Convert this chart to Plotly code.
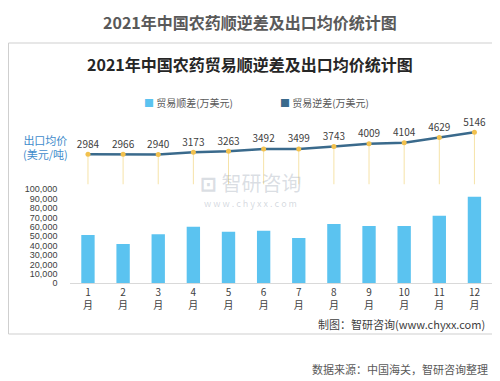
import plotly.graph_objects as go

months = ["1", "2", "3", "4", "5", "6", "7", "8", "9", "10", "11", "12"]
month_labels = [m + "<br>月" for m in months]
trade_surplus = [51400, 41800, 52100, 60200, 54900, 56000, 48200, 63100, 61000, 61000, 71900, 92100]
export_price = [2984, 2966, 2940, 3173, 3263, 3492, 3499, 3743, 4009, 4104, 4629, 5146]
y_ticks = [0, 10000, 20000, 30000, 40000, 50000, 60000, 70000, 80000, 90000, 100000]

# page body has an 8px default margin; map screen pixels to figure fractions
OFF = 8
W, H = 492, 373
FONT = "Noto Sans CJK SC"

def px(x):
    return (x - OFF) / W

def py(y):
    return (H - (y - OFF)) / H

fig = go.Figure()

fig.add_trace(go.Bar(
    x=month_labels, y=trade_surplus, name="贸易顺差(万美元)",
    marker=dict(color="#5bc3f0", line=dict(width=0)),
    width=0.38, xaxis="x", yaxis="y", showlegend=False,
))

fig.add_trace(go.Scatter(
    x=month_labels, y=export_price, name="出口均价",
    mode="lines+markers+text",
    line=dict(color="#3a6a8c", width=2.5),
    marker=dict(color="#f2c14e", size=5),
    text=[str(v) for v in export_price], textposition="top center",
    textfont=dict(size=10, color="#404040", family=FONT),
    error_y=dict(type="data", symmetric=False, array=[0] * len(export_price),
                 arrayminus=export_price, color="#f6e3a8", thickness=1, width=0),
    xaxis="x", yaxis="y2", showlegend=False, cliponaxis=False,
))

fig.update_layout(
    width=W, height=H, autosize=False,
    margin=dict(l=0, r=0, t=0, b=0, pad=0, autoexpand=False),
    paper_bgcolor="white", plot_bgcolor="rgba(0,0,0,0)",
    font=dict(family=FONT, color="#404040"),
    showlegend=False,
    xaxis=dict(
        domain=[px(70.4), px(492)], anchor="y", range=[-0.5, 11.5],
        tickvals=month_labels, ticktext=month_labels,
        showline=True, linecolor="#d9d9d9", linewidth=1,
        showgrid=False, ticks="", tickfont=dict(size=10, color="#404040"),
        automargin=False, fixedrange=True,
    ),
    yaxis=dict(
        domain=[py(283.3), py(189.3)], range=[0, 100000],
        tickvals=y_ticks, tickformat=",", showgrid=False, zeroline=False,
        ticks="", tickfont=dict(size=9, color="#404040", family="Liberation Sans"),
        ticklabelstandoff=12, automargin=False,
    ),
    yaxis2=dict(
        domain=[py(184.5), py(123.5)], range=[0, 6000], anchor="x",
        visible=False, showgrid=False, zeroline=False, automargin=False,
    ),
)

shapes = [
    dict(type="rect", xref="paper", yref="paper",
         x0=px(8.5), x1=px(493), y0=py(334), y1=py(43),
         line=dict(color="#cfcfcf", width=1), fillcolor="rgba(0,0,0,0)", layer="below"),
]
fig.update_layout(shapes=shapes)

ann = []
ann.append(dict(text="<b>2021年中国农药顺逆差及出口均价统计图</b>", x=px(250), y=py(8.5),
                xref="paper", yref="paper", showarrow=False, xanchor="center", yanchor="top",
                borderpad=0,
                font=dict(size=16, color="#595959", family=FONT)))
ann.append(dict(text="<b>2021年中国农药贸易顺逆差及出口均价统计图</b>", x=px(250), y=py(64),
                xref="paper", yref="paper", showarrow=False, xanchor="center", yanchor="middle",
                font=dict(size=16, color="#262626", family=FONT)))
# legend
ann.append(dict(text="<span style='color:#5bc3f0'>■</span> 贸易顺差(万美元)", x=px(142), y=py(103),
                xref="paper", yref="paper", showarrow=False, xanchor="left", yanchor="middle",
                font=dict(size=10, color="#595959", family=FONT)))
ann.append(dict(text="<span style='color:#3a6a8c'>■</span> 贸易逆差(万美元)", x=px(278), y=py(103),
                xref="paper", yref="paper", showarrow=False, xanchor="left", yanchor="middle",
                font=dict(size=10, color="#595959", family=FONT)))
ann.append(dict(text="出口均价<br>(美元/吨)", x=px(45), y=py(147),
                xref="paper", yref="paper", showarrow=False, xanchor="center", yanchor="middle",
                align="center", font=dict(size=11, color="#3f8ccb", family=FONT)))
# watermark
ann.append(dict(text="<b>⊡</b> 智研咨询", x=px(250), y=py(182),
                xref="paper", yref="paper", showarrow=False, xanchor="center", yanchor="middle",
                font=dict(size=20, color="rgba(150,160,175,0.35)", family=FONT)))
ann.append(dict(text="w w w . c h y x x . c o m", x=px(250), y=py(203),
                xref="paper", yref="paper", showarrow=False, xanchor="center", yanchor="middle",
                font=dict(size=9, color="rgba(150,160,175,0.4)", family=FONT)))
ann.append(dict(text="制图：智研咨询(www.chyxx.com)", x=px(487), y=py(324),
                xref="paper", yref="paper", showarrow=False, xanchor="right", yanchor="middle",
                font=dict(size=11, color="#404040", family=FONT)))
ann.append(dict(text="数据来源：中国海关，智研咨询整理", x=px(490), y=py(369),
                xref="paper", yref="paper", showarrow=False, xanchor="right", yanchor="middle",
                font=dict(size=11, color="#595959", family=FONT)))
fig.update_layout(annotations=ann)

fig.write_html("out.html")
